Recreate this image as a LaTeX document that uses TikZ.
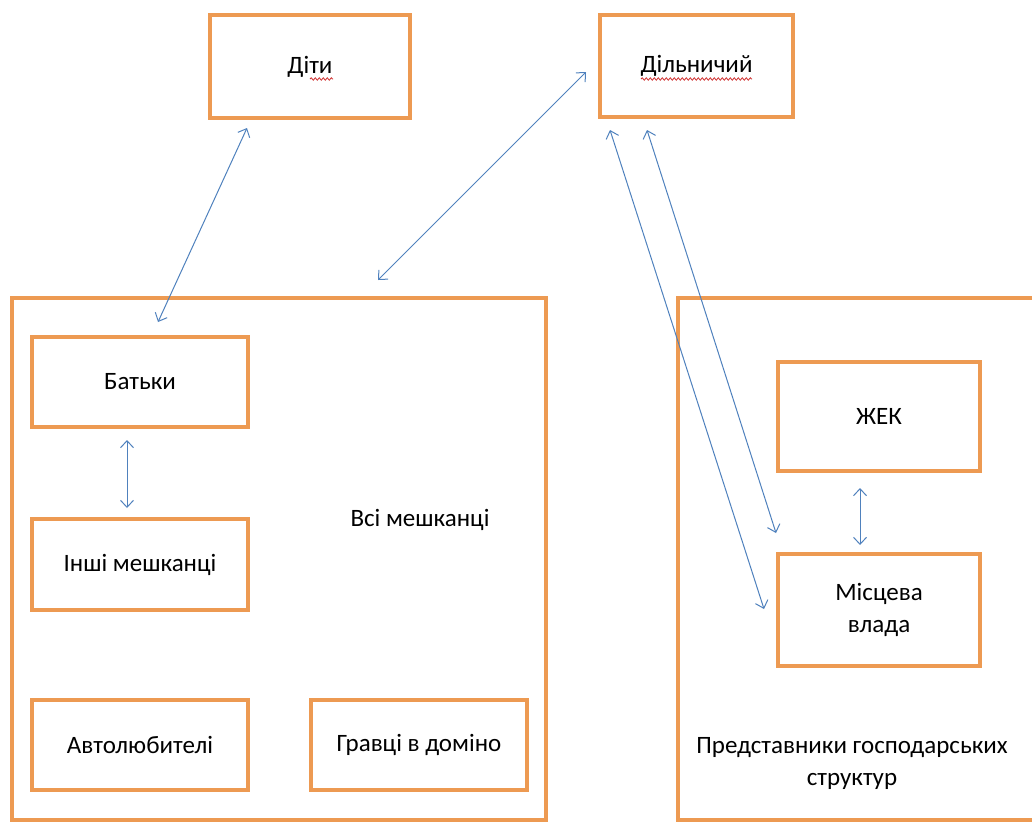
\documentclass[tikz,border=0pt]{standalone}
\usepackage{fontspec}
\setmainfont{Carlito}
\usetikzlibrary{arrows.meta,decorations.pathmorphing}
\definecolor{boxorange}{HTML}{ED9A52}
\definecolor{arrowblue}{HTML}{4F81BD}
\definecolor{spellred}{HTML}{D03030}
\tikzset{
  obox/.style={draw=boxorange, line width=4pt, fill=white, rectangle, inner sep=0pt, align=center, font=\fontsize{25}{32}\selectfont},
  lbl/.style={inner sep=0pt, align=center, font=\fontsize{25}{32}\selectfont},
  link/.style={draw=arrowblue, line width=1pt, {Straight Barb[length=7pt,width=13pt]}-{Straight Barb[length=7pt,width=13pt]}},
  squiggle/.style={draw=spellred, line width=0.8pt, decorate, decoration={snake, amplitude=1.2pt, segment length=4pt}}
}
\begin{document}
\begin{tikzpicture}[x=1pt,y=-1pt]
\useasboundingbox (0,0) rectangle (1032,823);
% containers
\node[obox, minimum width=534pt, minimum height=522pt] (all) at (279,559) {};
\node[obox, minimum width=370pt, minimum height=522pt] (biz) at (863,559) {};
% top boxes
\node[obox, minimum width=200pt, minimum height=103pt] (diti) at (310,66.5) {Діти};
\node[obox, minimum width=193pt, minimum height=102pt] (dil) at (696.5,66) {Дільничий};
% spell-check underlines
\draw[squiggle] (310,79) -- (333,79);
\draw[squiggle] (641,79) -- (752,79);
% left inner
\node[obox, minimum width=216pt, minimum height=90pt] (bat) at (140,382) {Батьки};
\node[obox, minimum width=216pt, minimum height=91pt] (inshi) at (140,564.5) {Інші мешканці};
\node[obox, minimum width=216pt, minimum height=90pt] (avto) at (140,745) {Автолюбителі};
\node[obox, minimum width=216pt, minimum height=90pt] (hrav) at (419,745) {Гравці в доміно};
\node[lbl] (allt) at (420,520) {Всі мешканці};
% right inner
\node[obox, minimum width=202pt, minimum height=109pt] (zhek) at (879,416.5) {ЖЕК};
\node[obox, minimum width=202pt, minimum height=112pt] (mv) at (879,610) {Місцева\\влада};
\node[lbl] (bizt) at (852,763) {Представники господарських\\структур};
% connector ends
\coordinate (e1) at (247,128);
\coordinate (e2) at (158,322);
\coordinate (e3) at (586,72);
\coordinate (e4) at (378,280);
\coordinate (e5) at (610,130);
\coordinate (e6) at (764,609);
\coordinate (e7) at (647,130);
\coordinate (e8) at (776,533);
\coordinate (e9) at (127,440);
\coordinate (e10) at (127,508);
\coordinate (e11) at (860,488);
\coordinate (e12) at (860,545);
% connectors
\draw[link] (e1) -- (e2);
\draw[link] (e3) -- (e4);
\draw[link] (e5) -- (e6);
\draw[link] (e7) -- (e8);
\draw[link] (e9) -- (e10);
\draw[link] (e11) -- (e12);
\end{tikzpicture}
\end{document}
